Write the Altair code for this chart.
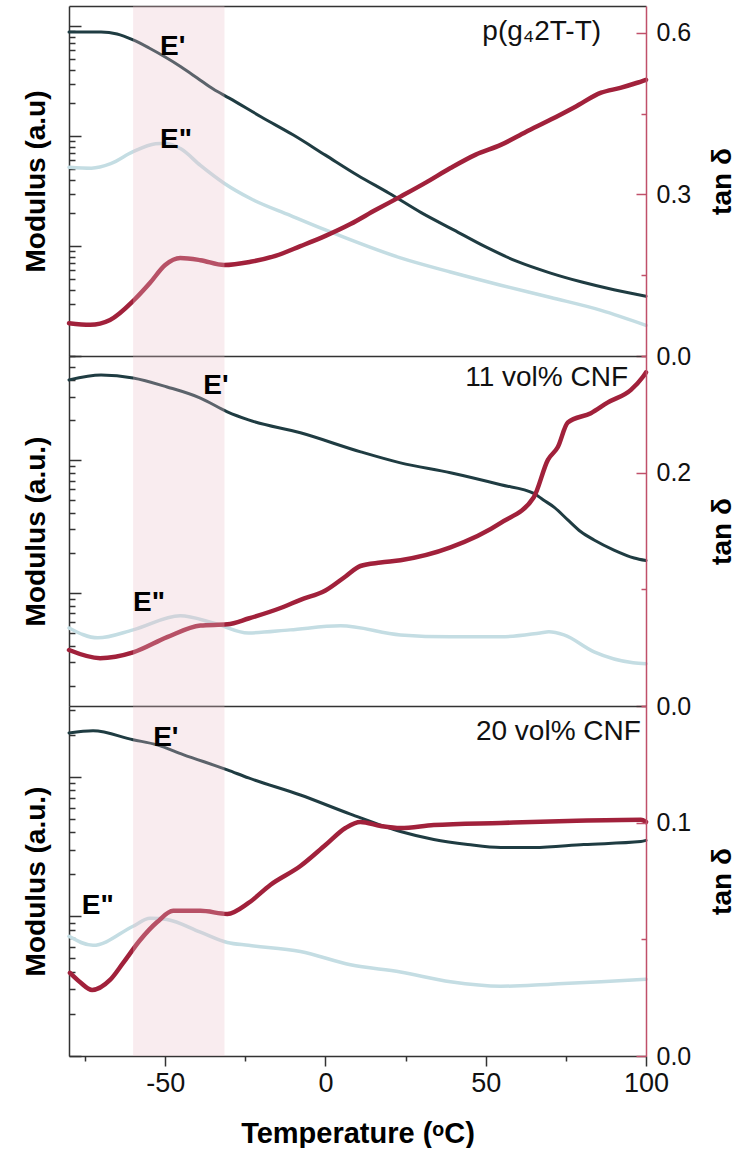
import altair as alt
import pandas as pd

FONT = "Liberation Sans"
C_EP = "#1f3c42"     # storage modulus E'
C_EPP = "#c4dde3"    # loss modulus E''
C_TAN = "#a1213b"    # tan delta
C_AX = "#c0506a"     # tan delta axis
C_BAND = "#ebc1cb"   # glass-transition window
C_FRAME = "#333333"

W, H = 577, 350
T_RANGE = [-80, 100]
BAND_T = [-60, -31.5]

# ---------------- p(g4 2T-T) ----------------
p1_ep_t = [-80, -70, -65, -60, -55, -50, -45, -40, -35, -30, -20, -10, 0, 10, 20, 30, 40, 50, 60, 70, 80, 90, 100]
p1_ep_v = [881, 881, 846, 747, 631, 522, 424, 337, 267, 221, 149, 102, 67, 44, 30, 20, 14, 9.8, 7.2, 5.7, 4.7, 4.0, 3.5]
p1_epp_t = [-80, -73, -67, -60, -53, -50, -45, -39, -31.5, -23.4, -11, 0, 23.4, 39, 54.7, 70.3, 86, 100]
p1_epp_v = [52, 51, 56, 72, 85, 86, 76, 54, 37, 27, 19, 14, 7.8, 5.8, 4.4, 3.4, 2.6, 1.9]
p1_tan_t = [-80, -73.4, -67.2, -59.7, -54.7, -50, -45.3, -39, -31.6, -23.4, -15.6, -7.8, 0, 7.8, 15.6,
            23.4, 31.3, 39, 46.9, 54.7, 62.5, 70.3, 78, 86, 92, 97, 100]
p1_tan_v = [0.061, 0.058, 0.067, 0.104, 0.136, 0.169, 0.182, 0.178, 0.169, 0.175, 0.186, 0.204, 0.223, 0.245, 0.271,
            0.296, 0.322, 0.349, 0.374, 0.392, 0.416, 0.439, 0.463, 0.489, 0.498, 0.507, 0.513]

# ---------------- 11 vol% CNF ----------------
p2_ep_t = [-80, -70, -60, -49.4, -39, -30.6, -24, -7.8, 11, 23.4, 39, 54.7, 65, 68, 71.4, 75.6, 79.7, 83.8, 90, 96.3, 100]
p2_ep_v = [400, 435, 414, 354, 292, 230, 200, 160, 115, 95, 80, 65, 56, 50, 44, 35.4, 28.8, 25, 21, 18.3, 17.5]
p2_epp_t = [-80, -71, -60, -45.3, -35, -24, -11, 4.7, 23.4, 39, 54.7, 67, 69.7, 74.4, 83.8, 96, 100]
p2_epp_v = [5.45, 4.59, 5.27, 6.72, 5.95, 5.0, 5.27, 5.65, 4.83, 4.67, 4.67, 5.0, 5.1, 4.83, 3.6, 2.98, 2.93]
p2_tan_t = [-80, -70.3, -60, -49.4, -39, -30.6, -24, -14, -7.8, 0, 6.25, 10.9, 17.2, 23.4, 39, 54.7, 65,
            69.4, 72.5, 75.6, 82.8, 88, 95.3, 99, 100]
p2_tan_v = [0.048, 0.041, 0.046, 0.059, 0.069, 0.070, 0.075, 0.084, 0.091, 0.099, 0.111, 0.120, 0.123, 0.125,
            0.136, 0.157, 0.179, 0.211, 0.222, 0.243, 0.251, 0.260, 0.271, 0.282, 0.286]

# ---------------- 20 vol% CNF ----------------
p3_ep_t = [-80, -72.5, -60, -52.5, -44.4, -30.6, -24, -7.8, 7.8, 23.4, 33.8, 44.4, 54.7, 65, 80.6, 98.4, 100]
p3_ep_v = [206, 213, 184, 169, 144, 112, 98, 74, 54, 40.5, 35.5, 32.7, 31.1, 31.1, 32.7, 34.3, 35]
p3_epp_t = [-80, -72.5, -60, -54.7, -49.4, -39, -30.6, -24, -7.8, 7.8, 23.4, 39, 54.7, 70.3, 86, 100]
p3_epp_v = [7.2, 6.2, 8.5, 9.7, 9.5, 7.7, 6.5, 6.2, 5.6, 4.5, 4.0, 3.4, 3.16, 3.27, 3.4, 3.55]
p3_tan_t = [-79.7, -76.6, -72.8, -67.2, -63.1, -57.8, -52.5, -47.5, -39, -30.6, -24, -17.2, -7.8, 0, 6.25,
            10.9, 17.2, 23.4, 33.8, 54.7, 75.6, 98.4, 100]
p3_tan_v = [0.0356, 0.0317, 0.0283, 0.0326, 0.0399, 0.0497, 0.0574, 0.0622, 0.0622, 0.0609, 0.0656, 0.0733,
            0.0814, 0.0904, 0.0977, 0.1003, 0.0986, 0.0977, 0.099, 0.0999, 0.1007, 0.1012, 0.1003]

# x ticks
X_MAJOR = [-50, 0, 50, 100]
X_MINOR = [-75, -25, 25, 75]


def log_ticks(lo, hi):
    dec = [10.0 ** k for k in range(-1, 5) if lo <= 10.0 ** k <= hi]
    mnr = [m * 10.0 ** k for k in range(-1, 5) for m in range(2, 10) if lo <= m * 10.0 ** k <= hi]
    return dec, mnr


def panel(ep, epp, tan, mod_dom, tan_dom, tan_major, tan_minor, mod_title, elabels, tag, bottom):
    xs = alt.Scale(domain=T_RANGE, nice=False, zero=False)
    ms = alt.Scale(type="log", domain=mod_dom, nice=False)
    ts = alt.Scale(domain=tan_dom, nice=False, zero=False)
    dec, mnr = log_ticks(*mod_dom)

    if bottom:
        x_major = alt.Axis(values=X_MAJOR, orient="bottom", grid=False, tickSize=10, tickWidth=1.5,
                           tickColor=C_FRAME, domainColor=C_FRAME, domainWidth=1.5, labelFontSize=27,
                           labelColor="#111", labelPadding=4, labelExpr="'' + datum.value",
                           labelFlush=False, title="Temperature (ᵒC)", titleFontSize=29,
                           titleFontWeight="bold", titlePadding=23, titleColor="#000")
        x_minor = alt.Axis(values=X_MINOR, orient="bottom", grid=False, tickSize=5, tickWidth=1.5,
                           tickColor=C_FRAME, domain=False, labels=False, title=None)
    else:
        x_major = None
        x_minor = None
    x_top = alt.Axis(orient="top", grid=False, ticks=False, labels=False, domain=True,
                     domainColor=C_FRAME, domainWidth=1.5, title=None)

    ep_line = alt.Chart(ep).mark_line(color=C_EP, strokeWidth=3, strokeCap="round",
                                      interpolate="monotone").encode(
        x=alt.X("T:Q", scale=xs, axis=x_major),
        y=alt.Y("E:Q", scale=ms, axis=alt.Axis(orient="left", values=dec, labels=False, grid=False,
                                               tickSize={"expr": "-12"}, tickWidth=1.5, tickColor=C_FRAME,
                                               domainColor=C_FRAME, domainWidth=1.5,
                                               title=mod_title, titleFontSize=28, titleFontWeight="bold",
                                               titlePadding=18, titleColor="#000")),
    )
    epp_line = alt.Chart(epp).mark_line(color=C_EPP, strokeWidth=3.5, strokeCap="round",
                                        interpolate="monotone").encode(
        x=alt.X("T:Q", scale=xs, axis=x_top),
        y=alt.Y("E:Q", scale=ms, axis=alt.Axis(orient="left", values=mnr, labels=False, grid=False,
                                               tickSize={"expr": "-6"}, tickWidth=1.5, tickColor=C_FRAME,
                                               domain=False, title=None)),
    )
    tan_line = alt.Chart(tan).mark_line(color=C_TAN, strokeWidth=4.5, strokeCap="round",
                                        interpolate="monotone").encode(
        x=alt.X("T:Q", scale=xs, axis=None),
        y=alt.Y("tan:Q", scale=ts, axis=alt.Axis(orient="right", values=tan_major, format=".1f", grid=False,
                                                 tickSize={"expr": "-10"}, tickWidth=1.5, tickColor=C_AX,
                                                 domainColor=C_AX, domainWidth=1.5, zindex=1,
                                                 labelFontSize=25, labelColor="#111", labelPadding=20,
                                                 labelFlush=False, labelOverlap=False, labelBound=False,
                                                 title="tan δ", titleFontSize=28, titleFontWeight="bold",
                                                 titleAngle=270, titleBaseline="top", titlePadding=18,
                                                 titleColor="#000")),
    )
    band = alt.Chart(pd.DataFrame({"t0": [BAND_T[0]], "t1": [BAND_T[1]]})).mark_rect(
        color=C_BAND, opacity=0.3).encode(
        x=alt.X("t0:Q", scale=xs, axis=x_minor),
        x2="t1:Q",
        y=alt.YDatum(tan_dom[0], scale=ts, axis=alt.Axis(orient="right", values=tan_minor, labels=False,
                                                          grid=False, tickSize={"expr": "-5"}, tickWidth=1.5,
                                                          tickColor=C_AX, domain=False, title=None)),
        y2=alt.Y2Datum(tan_dom[1]),
    )
    elab = alt.Chart(elabels).mark_text(align="left", baseline="middle", font=FONT, fontSize=28,
                                        fontWeight="bold", color="#000").encode(
        x=alt.X("T:Q", scale=xs, axis=None),
        y=alt.Y("E:Q", scale=ms, axis=None),
        text="txt:N",
    )
    tg = alt.Chart(tag).mark_text(align="right", baseline="middle", font=FONT, fontSize=28,
                                  color="#111").encode(
        x=alt.X("T:Q", scale=xs, axis=None),
        y=alt.Y("E:Q", scale=ms, axis=None),
        text="txt:N",
    )
    return alt.layer(ep_line, epp_line, tan_line, band, elab, tg).resolve_scale(
        y="independent").resolve_axis(x="independent").properties(width=W, height=H)


def df(t, v, col):
    return pd.DataFrame({"T": t, col: v})


p1 = panel(df(p1_ep_t, p1_ep_v, "E"), df(p1_epp_t, p1_epp_v, "E"), df(p1_tan_t, p1_tan_v, "tan"),
           [1, 1520], [0, 0.65], [0, 0.3, 0.6], [0.15, 0.45], "Modulus (a.u)",
           pd.DataFrame({"T": [-51.6, -51.6], "E": [644, 92], "txt": ["E'", 'E"']}),
           pd.DataFrame({"T": [86], "E": [882], "txt": ["p(g₄2T-T)"]}), False)
p2 = panel(df(p2_ep_t, p2_ep_v, "E"), df(p2_epp_t, p2_epp_v, "E"), df(p2_tan_t, p2_tan_v, "tan"),
           [1.41, 605], [0, 0.3], [0, 0.2], [0.1, 0.3], "Modulus (a.u.)",
           pd.DataFrame({"T": [-38.1, -60], "E": [360, 8.4], "txt": ["E'", 'E"']}),
           pd.DataFrame({"T": [94.4], "E": [414], "txt": ["11 vol% CNF"]}), False)
p3 = panel(df(p3_ep_t, p3_ep_v, "E"), df(p3_epp_t, p3_epp_v, "E"), df(p3_tan_t, p3_tan_v, "tan"),
           [1.0, 321], [0, 0.15], [0, 0.1], [0.05, 0.15], "Modulus (a.u.)",
           pd.DataFrame({"T": [-53.75, -76], "E": [190, 11.8], "txt": ["E'", 'E"']}),
           pd.DataFrame({"T": [98.4], "E": [210], "txt": ["20 vol% CNF"]}), True)

chart = alt.vconcat(p1, p2, p3, spacing=0, bounds="flush").properties(
    padding={"left": 22, "top": 6, "right": 0, "bottom": 0},
    background="white",
).configure_view(stroke=None).configure_axis(
    grid=False, labelFont=FONT, titleFont=FONT
)

chart.save("out.html", embed_options={"renderer": "svg", "actions": False})
